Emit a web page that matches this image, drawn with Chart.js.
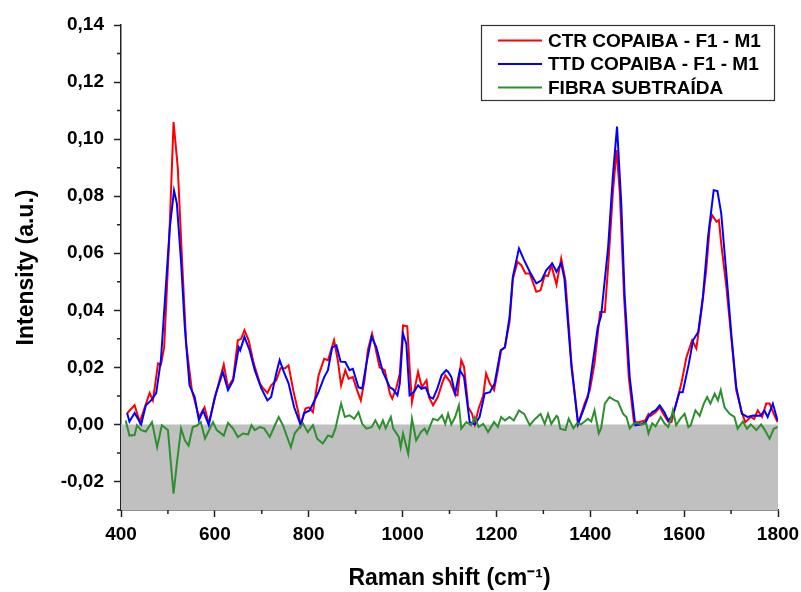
<!DOCTYPE html>
<html>
<head>
<meta charset="utf-8">
<script src="https://cdn.jsdelivr.net/npm/chart.js@4.4.1/dist/chart.umd.min.js"></script>
<style>
  html, body { margin: 0; background: #fff; }
</style>
</head>
<body>
<canvas id="raman" width="801" height="592"></canvas>
<script>
// Raman spectra as [shift cm-1, intensity a.u.]
const seriesNames = ["CTR COPAIBA - F1 - M1", "TTD COPAIBA - F1 - M1", "FIBRA SUBTRAÍDA"];

const ctr = [
  [413,0.0039],[429,0.0067],[440,0.0008],[461,0.011],[468,0.0084],[479,0.0214],[485,0.021],[492,0.027],
  [503,0.066],[512,0.106],[521,0.090],[530,0.058],[539,0.028],[551,0.012],[566,0.0026],[578,0.006],
  [587,0.0003],[603,0.0113],[619,0.021],[628,0.013],[639,0.016],[649,0.0295],[656,0.030],[663,0.033],
  [672,0.0295],[683,0.0213],[696,0.0144],[703,0.0126],[712,0.011],[720,0.0137],[731,0.0155],[740,0.0197],
  [750,0.0197],[757,0.0207],[767,0.012],[777,0.0049],[783,-0.0003],[793,0.0056],[800,0.006],[809,0.0043],
  [821,0.0172],[833,0.023],[841,0.0225],[854,0.0295],[862,0.0225],[869,0.0137],[878,0.019],[885,0.016],
  [894,0.0166],[903,0.012],[911,0.0084],[919,0.0155],[926,0.026],[935,0.0318],[942,0.027],[951,0.020],
  [962,0.019],[973,0.0108],[978,0.009],[987,0.013],[994,0.0178],[1001,0.0347],[1010,0.0344],[1015,0.020],
  [1020,0.0078],[1033,0.0184],[1041,0.013],[1051,0.0155],[1056,0.0096],[1065,0.0067],[1075,0.0096],[1084,0.0143],
  [1091,0.0172],[1101,0.015],[1112,0.0105],[1117,0.0102],[1125,0.0225],[1131,0.0202],[1140,0.006],[1148,0.0037],
  [1154,0.0],[1162,0.0055],[1172,0.0102],[1178,0.0178],[1186,0.0143],[1195,0.012],[1203,0.019],[1210,0.026],
  [1218,0.027],[1228,0.036],[1235,0.051],[1245,0.057],[1253,0.0558],[1262,0.0529],[1271,0.0529],[1285,0.0465],
  [1294,0.047],[1303,0.0523],[1310,0.052],[1317,0.0558],[1328,0.049],[1338,0.0582],[1347,0.0505],[1360,0.0213],
  [1374,0.0002],[1388,0.0073],[1399,0.012],[1409,0.0213],[1421,0.0394],[1431,0.0394],[1439,0.0576],[1448,0.081],
  [1456,0.0962],[1463,0.081],[1472,0.0447],[1482,0.0166],[1493,0.0008],[1504,0.0008],[1517,0.0014],[1524,0.0037],
  [1528,0.003],[1539,0.0043],[1548,0.006],[1558,0.003],[1566,0.001],[1573,0.0008],[1583,0.0073],[1594,0.0143],
  [1605,0.0236],[1617,0.0295],[1626,0.0266],[1637,0.040],[1647,0.054],[1655,0.0704],[1660,0.0733],[1669,0.071],
  [1674,0.0716],[1679,0.0634],[1690,0.0482],[1701,0.0295],[1711,0.012],[1722,0.0049],[1730,0.0008],[1742,0.0026],
  [1749,0.0019],[1757,0.0049],[1766,0.0026],[1775,0.0073],[1782,0.0073],[1791,0.0037],[1799,0.0008]
];

const ttd = [
  [413,0.004],[418,0.001],[429,0.004],[443,0.0],[453,0.0067],[464,0.0084],[475,0.011],[485,0.0225],
  [504,0.069],[513,0.082],[519,0.0775],[528,0.057],[536,0.034],[546,0.0137],[557,0.0096],[566,0.0014],
  [575,0.0048],[587,-0.0002],[600,0.0096],[617,0.0184],[628,0.012],[639,0.0154],[651,0.027],[654,0.026],
  [663,0.0307],[674,0.026],[685,0.019],[699,0.0126],[712,0.0084],[720,0.0096],[731,0.018],[738,0.0225],
  [747,0.0184],[757,0.0144],[769,0.006],[783,-0.0003],[790,0.0039],[802,0.0049],[820,0.011],[833,0.0166],
  [841,0.019],[850,0.027],[859,0.0277],[868,0.022],[878,0.0219],[887,0.019],[894,0.0195],[906,0.013],
  [914,0.0126],[923,0.0213],[934,0.0307],[944,0.0271],[958,0.0184],[973,0.013],[980,0.0123],[989,0.0102],
  [994,0.0143],[1001,0.0318],[1008,0.0283],[1015,0.0102],[1024,0.0113],[1033,0.0137],[1040,0.0125],[1049,0.013],
  [1058,0.0096],[1065,0.009],[1074,0.0125],[1083,0.0172],[1093,0.019],[1097,0.0185],[1104,0.0166],[1112,0.0108],
  [1122,0.019],[1131,0.0166],[1143,0.0008],[1154,0.0],[1164,0.0026],[1175,0.0108],[1186,0.0113],[1196,0.0143],
  [1209,0.026],[1218,0.027],[1228,0.0377],[1235,0.0517],[1248,0.0617],[1259,0.0576],[1271,0.0535],[1285,0.0494],
  [1296,0.0505],[1306,0.054],[1319,0.0564],[1328,0.0535],[1338,0.0565],[1345,0.051],[1360,0.020],[1374,0.0002],
  [1385,0.0049],[1395,0.0096],[1406,0.0225],[1416,0.0342],[1423,0.038],[1438,0.062],[1448,0.0868],[1457,0.1044],
  [1466,0.0775],[1473,0.0459],[1484,0.0166],[1496,-0.0003],[1508,0.0],[1518,0.0008],[1525,0.003],[1532,0.0043],
  [1539,0.0049],[1548,0.0067],[1558,0.0043],[1566,0.0014],[1573,0.0026],[1580,0.0055],[1590,0.0113],[1597,0.0113],
  [1610,0.0213],[1619,0.0295],[1630,0.0324],[1640,0.0447],[1651,0.0657],[1663,0.0821],[1671,0.0818],[1679,0.074],
  [1690,0.0529],[1701,0.0307],[1711,0.0131],[1723,0.0037],[1735,0.0026],[1748,0.0031],[1763,0.003],[1771,0.0049],
  [1778,0.0026],[1789,0.0073],[1799,0.0014]
];

const fibra = [
  [410,0.0014],[418,-0.0039],[429,-0.0037],[434,-0.0003],[443,-0.002],[453,-0.0025],[466,0.0008],[477,-0.008],
  [487,-0.0003],[500,-0.002],[512,-0.0243],[519,-0.0137],[528,-0.0014],[536,-0.0056],[544,-0.0074],[553,-0.0009],
  [562,-0.0004],[570,0.0008],[579,-0.005],[596,0.0008],[604,-0.002],[619,-0.0039],[628,0.0005],[639,-0.0015],
  [649,-0.0044],[660,-0.0032],[671,-0.0035],[678,-0.0003],[685,-0.002],[696,-0.0009],[705,-0.0014],[717,-0.0044],
  [728,-0.0003],[736,0.0026],[745,-0.0003],[754,-0.0044],[762,-0.008],[770,-0.0032],[781,-0.0009],[788,0.0003],
  [798,-0.0027],[809,-0.0003],[818,-0.005],[830,-0.0067],[841,-0.0039],[850,-0.0044],[857,-0.0014],[862,0.0023],
  [869,0.0073],[877,0.0026],[887,0.0032],[897,0.002],[906,0.0043],[914,0.0002],[923,-0.0015],[934,-0.001],
  [942,0.0014],[951,-0.0014],[958,0.0014],[964,-0.0014],[975,0.0026],[980,-0.0014],[992,-0.0044],[996,-0.008],
  [1001,-0.0032],[1012,-0.0103],[1020,0.002],[1029,-0.0056],[1039,-0.0027],[1047,-0.0015],[1052,-0.0032],[1065,0.002],
  [1075,0.0014],[1084,0.0032],[1091,0.0002],[1097,0.0037],[1104,0.0],[1112,0.0026],[1120,0.0067],[1125,-0.0015],
  [1136,0.0008],[1146,-0.0003],[1154,0.0026],[1162,-0.0009],[1172,0.0002],[1182,-0.0027],[1195,0.0008],[1203,-0.0009],
  [1210,0.0026],[1218,0.0014],[1228,0.0026],[1237,0.0014],[1248,0.0049],[1259,0.0037],[1271,-0.0003],[1283,0.002],
  [1294,0.0037],[1303,0.0002],[1310,0.0037],[1317,0.0002],[1328,0.003],[1331,0.0026],[1336,-0.0015],[1347,-0.002],
  [1354,0.002],[1364,-0.0014],[1372,0.0004],[1380,0.0],[1388,0.001],[1395,0.002],[1402,0.001],[1409,0.0049],
  [1418,-0.0032],[1423,-0.0014],[1431,0.0073],[1441,0.0096],[1452,0.0084],[1459,0.008],[1470,0.0037],[1477,0.0026],
  [1484,-0.0014],[1493,0.0004],[1500,0.0004],[1511,0.0],[1519,0.0004],[1524,-0.0032],[1532,0.0004],[1539,-0.0007],
  [1550,0.0026],[1558,0.0004],[1566,-0.0009],[1571,0.0014],[1576,0.0049],[1583,-0.0003],[1592,0.002],[1601,0.0037],
  [1609,-0.0009],[1614,-0.0003],[1624,0.0049],[1633,0.003],[1642,0.0073],[1649,0.0096],[1656,0.0073],[1665,0.0108],
  [1672,0.0084],[1678,0.012],[1686,0.006],[1697,0.0037],[1707,0.0026],[1714,-0.0015],[1725,0.001],[1734,-0.0015],
  [1742,0.0],[1754,-0.002],[1764,0.0],[1772,-0.002],[1782,-0.005],[1791,-0.0015],[1799,-0.0009]
];

// axis ticks
const xMajor = [400, 600, 800, 1000, 1200, 1400, 1600, 1800];
const xMinor = [500, 700, 900, 1100, 1300, 1500, 1700];
const yMajor = [-0.02, 0, 0.02, 0.04, 0.06, 0.08, 0.10, 0.12, 0.14];
const yMinor = [-0.03, -0.01, 0.01, 0.03, 0.05, 0.07, 0.09, 0.11, 0.13];
const shadeBand = [[400, 0], [1800, 0]]; // grey area below zero

const AXIS = "#222";
const FONT = "'Liberation Sans', Arial, sans-serif";
const colors = ["#ff0000", "#0000ff", "#2e8f2e"];

const pts = (arr) => arr.map(([x, y]) => ({ x, y }));

/* Minor ticks, drawn on the scales' own pixel mapping. */
const minorTicks = {
  id: "minorTicks",
  afterDraw(chart) {
    const { ctx, chartArea: a, scales: { x, y } } = chart;
    ctx.save();
    ctx.strokeStyle = AXIS;
    ctx.lineWidth = 1.5;
    ctx.beginPath();
    xMinor.forEach((v) => { const p = x.getPixelForValue(v); ctx.moveTo(p, a.bottom); ctx.lineTo(p, a.bottom + 4); });
    yMinor.forEach((v) => { const p = y.getPixelForValue(v); ctx.moveTo(a.left, p); ctx.lineTo(a.left - 4, p); });
    ctx.stroke();
    ctx.restore();
  },
};

/* Boxed legend in the top-right corner of the plot. */
const boxLegend = {
  id: "boxLegend",
  afterDraw(chart) {
    const { ctx, chartArea: a } = chart;
    const w = 293, h = 75, bx = a.right - 4 - w, by = a.top;
    ctx.save();
    ctx.fillStyle = "#fff";
    ctx.fillRect(bx, by, w, h);
    ctx.strokeStyle = "#333";
    ctx.lineWidth = 1.2;
    ctx.strokeRect(bx + 0.5, by + 0.5, w, h);
    ctx.font = "bold 19px " + FONT;
    ctx.textBaseline = "middle";
    seriesNames.forEach((name, i) => {
      const ry = by + 15.5 + i * 23.5;
      ctx.strokeStyle = colors[i];
      ctx.lineWidth = 2;
      ctx.beginPath();
      ctx.moveTo(bx + 17, ry);
      ctx.lineTo(bx + 61, ry);
      ctx.stroke();
      ctx.fillStyle = "#000";
      ctx.fillText(name, bx + 67, ry + 1);
    });
    ctx.restore();
  },
};

const line = (label, data, color, order) => ({
  label, data: pts(data), borderColor: color, backgroundColor: color,
  borderWidth: 2, pointRadius: 0, tension: 0, fill: false, order,
});

new Chart(document.getElementById("raman"), {
  type: "line",
  data: {
    datasets: [
      line(seriesNames[0], ctr, colors[0], 3),
      line(seriesNames[1], ttd, colors[1], 2),
      line(seriesNames[2], fibra, colors[2], 1),
      { label: "zero", data: pts(shadeBand), borderWidth: 0, pointRadius: 0,
        backgroundColor: "#c0c0c0", fill: "start", order: 4 },
    ],
  },
  options: {
    responsive: false,
    animation: false,
    layout: { padding: { left: 0, top: 25, right: 23, bottom: 0 } },
    plugins: { legend: { display: false }, tooltip: { enabled: false } },
    scales: {
      x: {
        type: "linear", min: 400, max: 1800,
        afterBuildTicks: (s) => { s.ticks = xMajor.map((v) => ({ value: v })); },
        afterFit: (s) => { s.height = 82; s.paddingLeft = 0; s.paddingRight = 0; },
        grid: { drawOnChartArea: false, drawTicks: true, tickLength: 7, tickColor: AXIS, tickWidth: 1.5 },
        border: { display: true, color: AXIS, width: 1.5 },
        ticks: { color: "#000", padding: 6, maxRotation: 0, font: { family: FONT, size: 19, weight: "bold" },
          callback: (v) => String(v) },
        title: { display: true, text: "Raman shift (cm⁻¹)", color: "#000", padding: { top: 0, bottom: 0 },
          font: { family: FONT, size: 23, weight: "bold" } },
      },
      y: {
        type: "linear", min: -0.03, max: 0.14,
        afterBuildTicks: (s) => { s.ticks = yMajor.map((v) => ({ value: v })); },
        afterFit: (s) => { s.width = 121; s.paddingTop = 0; s.paddingBottom = 0; },
        grid: { drawOnChartArea: false, drawTicks: true, tickLength: 7, tickColor: AXIS, tickWidth: 1.5 },
        border: { display: true, color: AXIS, width: 1.5 },
        ticks: { color: "#000", padding: 10, font: { family: FONT, size: 19, weight: "bold" },
          callback: (v) => Number(v).toFixed(2).replace(".", ",") },
        title: { display: true, text: "Intensity (a.u.)", color: "#000", padding: { top: 13, bottom: 0 },
          font: { family: FONT, size: 23, weight: "bold" } },
      },
    },
  },
  plugins: [minorTicks, boxLegend],
});
</script>
</body>
</html>
